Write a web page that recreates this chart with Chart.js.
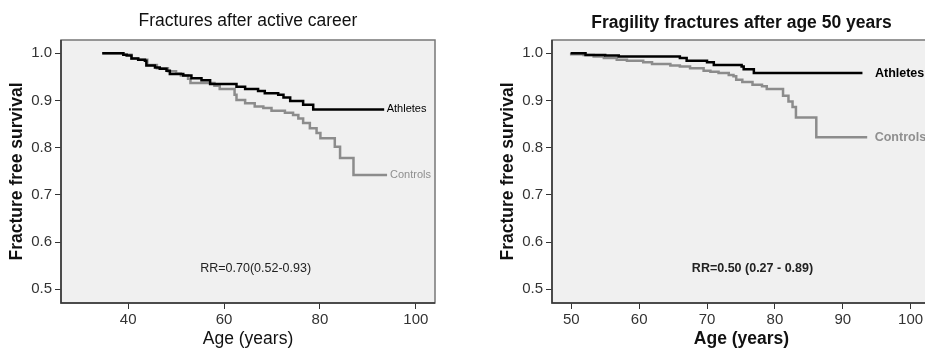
<!DOCTYPE html>
<html>
<head>
<meta charset="utf-8">
<script src="https://cdn.jsdelivr.net/npm/chart.js@4"></script>
<style>
    html, body { margin: 0; padding: 0; background: #fff; overflow: hidden; }
    body { width: 925px; height: 348px; position: relative; }
    canvas { position: absolute; top: 0; }
    #left-chart { left: 0; }
    #right-chart { left: 491px; }
</style>
</head>
<body>
<canvas id="left-chart" width="460" height="348"></canvas>
<canvas id="right-chart" width="460" height="348"></canvas>
<script>
// Fractures after active career
const careerAthletesAge = [34.6, 39.0, 39.7, 40.7, 42.1, 43.5, 43.8, 45.6, 46.6, 48.0, 48.7, 51.5, 53.2, 55.3, 57.1, 62.6, 64.4, 67.1, 68.5, 71.3, 72.4, 73.8, 76.5, 78.6, 93.4];
const careerAthletesSurv = [1.0, 0.997, 0.995, 0.989, 0.986, 0.984, 0.974, 0.970, 0.967, 0.963, 0.956, 0.953, 0.947, 0.943, 0.935, 0.929, 0.924, 0.920, 0.915, 0.912, 0.906, 0.899, 0.891, 0.881, 0.881];
const careerControlsAge = [34.6, 39.0, 40.7, 42.1, 44.0, 46.0, 48.3, 50.0, 51.0, 52.5, 53.0, 58.0, 59.1, 62.2, 62.6, 64.4, 66.4, 68.2, 69.9, 72.7, 74.4, 75.5, 76.5, 77.9, 79.3, 80.1, 83.1, 84.2, 87.0, 94.0];
const careerControlsSurv = [1.0, 0.997, 0.989, 0.986, 0.975, 0.968, 0.962, 0.957, 0.953, 0.946, 0.937, 0.931, 0.924, 0.912, 0.901, 0.894, 0.887, 0.884, 0.878, 0.874, 0.869, 0.862, 0.852, 0.841, 0.831, 0.820, 0.802, 0.778, 0.742, 0.742];

// Fragility fractures after age 50 years
const fragilityAthletesAge = [49.9, 52.1, 55.0, 57.0, 66.0, 67.0, 70.0, 71.0, 75.1, 75.4, 76.9, 92.9];
const fragilityAthletesSurv = [1.0, 0.996, 0.995, 0.993, 0.990, 0.984, 0.981, 0.975, 0.972, 0.966, 0.958, 0.958];
const fragilityControlsAge = [49.8, 51.8, 53.3, 54.8, 56.7, 58.2, 60.6, 61.9, 64.6, 66.0, 67.5, 69.5, 70.5, 71.7, 73.2, 73.9, 74.3, 75.2, 76.7, 78.1, 78.8, 81.2, 82.0, 82.6, 83.1, 86.1, 93.6];
const fragilityControlsSurv = [0.998, 0.996, 0.993, 0.990, 0.986, 0.984, 0.981, 0.977, 0.974, 0.972, 0.968, 0.963, 0.961, 0.958, 0.954, 0.951, 0.944, 0.939, 0.933, 0.930, 0.924, 0.910, 0.898, 0.886, 0.864, 0.822, 0.822];

// Tick labels
const survTicks = [0.5, 0.6, 0.7, 0.8, 0.9, 1.0];
const careerAgeTicks = [40, 60, 80, 100];
const fragilityAgeTicks = [50, 60, 70, 80, 90, 100];

const FONT = '"Liberation Sans", Arial, Helvetica, sans-serif';

function toPoints(ages, surv) {
    return ages.map((a, i) => ({ x: a, y: surv[i] }));
}

// Grey panel + frame around the plot area
const panelBox = {
    id: 'panelBox',
    beforeDatasetsDraw(chart) {
        const { ctx, chartArea: a } = chart;
        ctx.save();
        ctx.fillStyle = '#f0f0f0';
        ctx.fillRect(a.left, a.top, a.right - a.left, a.bottom - a.top);
        ctx.restore();
    },
    afterDatasetsDraw(chart) {
        const { ctx, chartArea: a } = chart;
        ctx.save();
        ctx.strokeStyle = '#777';
        ctx.lineWidth = 1.5;
        ctx.strokeRect(a.left, a.top, a.right - a.left, a.bottom - a.top);
        ctx.strokeStyle = '#333';
        ctx.beginPath();
        ctx.moveTo(a.left, a.top);
        ctx.lineTo(a.left, a.bottom);
        ctx.lineTo(a.right, a.bottom);
        ctx.stroke();
        ctx.restore();
    }
};

// Curve end labels and RR note
const annotations = {
    id: 'annotations',
    afterDatasetsDraw(chart, args, opts) {
        const { ctx, scales: { x, y } } = chart;
        ctx.save();
        ctx.textBaseline = 'middle';
        chart.data.datasets.forEach((ds, i) => {
            const last = ds.data[ds.data.length - 1];
            ctx.font = opts.labelFont;
            ctx.fillStyle = ds.labelColor;
            ctx.textAlign = 'left';
            ctx.fillText(ds.label, x.getPixelForValue(last.x) + opts.labelGap[i], y.getPixelForValue(last.y));
        });
        ctx.font = opts.noteFont;
        ctx.fillStyle = '#222';
        ctx.textAlign = 'center';
        ctx.fillText(opts.note, x.getPixelForValue(opts.noteAt[0]), y.getPixelForValue(opts.noteAt[1]));
        ctx.restore();
    }
};

function makeChart(canvasId, cfg) {
    const ctx = document.getElementById(canvasId).getContext('2d');
    const weight = cfg.bold ? 'bold' : 'normal';
    return new Chart(ctx, {
        type: 'line',
        data: {
            datasets: [
                {
                    label: 'Athletes',
                    data: toPoints(cfg.athletesAge, cfg.athletesSurv),
                    borderColor: '#000',
                    labelColor: '#000',
                    borderWidth: 2.5,
                    stepped: true,
                    pointRadius: 0
                },
                {
                    label: 'Controls',
                    data: toPoints(cfg.controlsAge, cfg.controlsSurv),
                    borderColor: '#8c8c8c',
                    labelColor: '#8f8f8f',
                    borderWidth: 2.5,
                    stepped: true,
                    pointRadius: 0
                }
            ]
        },
        options: {
            responsive: false,
            animation: false,
            layout: { padding: { left: 0, right: cfg.padRight, top: 0, bottom: 0 } },
            plugins: {
                legend: { display: false },
                tooltip: { enabled: false },
                title: {
                    display: true,
                    text: cfg.title,
                    fullSize: false,
                    color: '#111',
                    font: { family: FONT, size: 17.5, weight: weight },
                    padding: cfg.titlePad
                },
                annotations: {
                    labelFont: (cfg.bold ? 'bold ' : '') + cfg.labelSize + 'px ' + FONT,
                    labelGap: cfg.labelGap,
                    noteFont: (cfg.bold ? 'bold ' : '') + '12.5px ' + FONT,
                    note: cfg.note,
                    noteAt: cfg.noteAt
                }
            },
            scales: {
                x: {
                    type: 'linear',
                    min: cfg.xMin,
                    max: cfg.xMax,
                    afterBuildTicks: scale => { scale.ticks = cfg.xTicks.map(v => ({ value: v })); },
                    afterFit: scale => { scale.height = 45; },
                    border: { display: false },
                    grid: { drawOnChartArea: false, drawTicks: true, tickLength: 6, color: '#333' },
                    ticks: {
                        color: '#333',
                        padding: 2,
                        maxRotation: 0,
                        font: { family: FONT, size: 15 },
                        callback: v => String(v)
                    },
                    title: {
                        display: true,
                        text: 'Age (years)',
                        color: '#111',
                        font: { family: FONT, size: 17.5, weight: weight, lineHeight: 1.05 },
                        padding: { top: 0, bottom: 0 }
                    }
                },
                y: {
                    min: 0.471,
                    max: 1.028,
                    afterBuildTicks: scale => { scale.ticks = survTicks.map(v => ({ value: v })); },
                    afterFit: scale => { scale.width = 61; },
                    border: { display: false },
                    grid: { drawOnChartArea: false, drawTicks: true, tickLength: 6, color: '#333' },
                    ticks: {
                        color: '#333',
                        padding: 3,
                        font: { family: FONT, size: 15 },
                        callback: v => Number(v).toFixed(1)
                    },
                    title: {
                        display: true,
                        text: 'Fracture free survival',
                        color: '#111',
                        font: { family: FONT, size: 17.5, weight: 'bold' },
                        padding: { top: 7, bottom: 0 }
                    }
                }
            }
        },
        plugins: [panelBox, annotations]
    });
}

makeChart('left-chart', {
    title: 'Fractures after active career',
    bold: false,
    titlePad: { top: 11, bottom: 8 },
    athletesAge: careerAthletesAge,
    athletesSurv: careerAthletesSurv,
    controlsAge: careerControlsAge,
    controlsSurv: careerControlsSurv,
    xMin: 26,
    xMax: 104,
    xTicks: careerAgeTicks,
    padRight: 25,
    labelSize: 11,
    labelGap: [2.5, 3],
    note: 'RR=0.70(0.52-0.93)',
    noteAt: [66.6, 0.545]
});

makeChart('right-chart', {
    title: 'Fragility fractures after age 50 years',
    bold: true,
    titlePad: { top: 13, bottom: 6 },
    athletesAge: fragilityAthletesAge,
    athletesSurv: fragilityAthletesSurv,
    controlsAge: fragilityControlsAge,
    controlsSurv: fragilityControlsSurv,
    xMin: 47.16,
    xMax: 103,
    xTicks: fragilityAgeTicks,
    padRight: 20,
    labelSize: 12.5,
    labelGap: [12.5, 7.5],
    note: 'RR=0.50 (0.27 - 0.89)',
    noteAt: [76.7, 0.545]
});
</script>
</body>
</html>
